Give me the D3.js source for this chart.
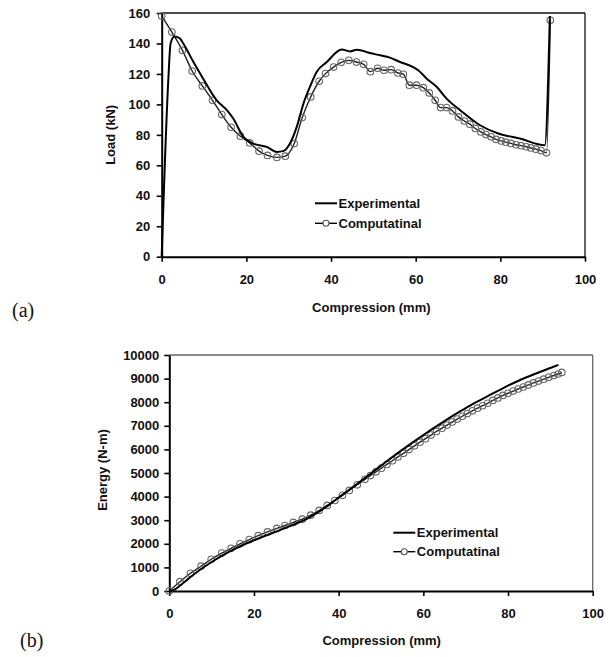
<!DOCTYPE html>
<html>
<head>
<meta charset="utf-8">
<script src="https://cdn.jsdelivr.net/npm/d3@7"></script>
<style>
html,body{margin:0;padding:0;background:#fff;}
svg{display:block;}
text{font-family:"Liberation Sans",Arial,sans-serif;}
text.serif{font-family:"Liberation Serif","Times New Roman",serif;}
</style>
</head>
<body>
<svg id="chart" width="611" height="657"></svg>
<script>
// ---------- DATA ----------
const seriesNames = ["Experimental", "Computatinal"];
const xTicks = [0, 20, 40, 60, 80, 100];
const loadTicks = [0, 20, 40, 60, 80, 100, 120, 140, 160];
const energyTicks = [0, 1000, 2000, 3000, 4000, 5000, 6000, 7000, 8000, 9000, 10000];

// (a) Load vs compression
const loadExpX = [0,1.56,2.1,3.0,4.2,5.1,7.5,9.8,13.0,15.4,16.9,19.3,21.6,24.8,27.2,28.7,30.3,31.9,33.5,35.0,36.6,39.0,42.5,44.5,46.1,49.2,51.6,53.9,56.3,59.4,60.6,62.6,65.0,67.3,70.5,75.2,79.5,84.6,90.5,91.7];
const loadExpY = [0,116,140,144.5,143.5,140,127.8,116.9,102.7,96.2,90.7,78.7,74.3,72.1,68.8,69.3,74.3,85.2,100.6,111.4,121.3,127.8,136.1,134.8,135.9,133.7,132.2,130.7,127.8,124.5,122.4,116.9,111.4,103.8,96.2,86.3,80.9,77.6,73.2,158];
const loadCompX = [0,2.4,4.9,7.2,9.6,12.0,14.2,16.4,18.6,20.8,23.0,25.0,27.2,29.2,31.3,33.2,35.2,37.2,38.7,40.6,42.4,44.2,46.0,47.7,49.3,51.0,52.5,54.2,55.8,57.1,58.5,60.2,61.8,63.2,64.6,65.9,67.3,68.7,70.1,71.5,72.8,74.1,75.4,76.6,77.8,79.0,80.2,81.3,82.5,83.7,84.9,86.1,87.2,88.4,89.6,90.9,91.8];
const loadCompY = [158,147.5,135.5,121.9,112.1,102.7,93.3,85.0,79.1,74.7,69.3,66.5,65.2,66.0,74.3,91.4,104.9,115.2,120.2,124.5,127.6,128.9,127.8,126.3,121.5,123.7,122.4,122.8,120.6,119.8,112.6,112.6,111.0,107.5,102.7,97.9,97.9,95.7,91.8,89.1,87.0,84.2,81.9,80.2,78.7,77.0,76.0,75.2,74.4,73.5,72.9,72.2,71.4,70.6,69.7,68.2,155.2];

// (b) Energy vs compression
const energyExpX = [0,1,2,3,4,5,7.5,10,12.5,15,17.5,20,22.5,25,27.5,30,32.5,35,37.5,40,42.5,45,47.5,50,52.5,55,57.5,60,62.5,65,67.5,70,72.5,75,77.5,80,82.5,85,87.5,90,91.9];
const energyExpY = [0,40,150,300,445,590,930,1230,1500,1740,1960,2150,2330,2500,2680,2860,3060,3320,3620,3960,4290,4630,4970,5310,5650,5980,6300,6610,6910,7200,7480,7750,8000,8240,8470,8700,8910,9100,9280,9450,9580];
const energyCompX = [0,2.5,5,7.5,9.9,12.4,14.6,16.7,18.9,21,23.2,25.4,27.3,29.3,31.4,33.4,35.4,37.3,39.1,40.9,42.5,44.4,46.2,47.5,48.8,50.1,51.4,52.7,54.0,55.3,56.6,57.9,59.2,60.5,61.8,63.1,64.4,65.6,66.8,68.0,69.2,70.4,71.6,72.8,74.0,75.2,76.4,77.6,78.8,80.0,81.2,82.4,83.6,84.8,86.0,87.2,88.4,89.6,90.8,91.8,92.7];
const energyCompY = [0,395,750,1050,1345,1605,1810,2000,2180,2345,2505,2650,2775,2905,3045,3215,3415,3625,3835,4055,4260,4500,4730,4890,5050,5205,5365,5520,5680,5835,5993,6150,6305,6455,6605,6760,6900,7030,7160,7285,7405,7520,7635,7745,7850,7955,8075,8180,8285,8380,8470,8560,8645,8730,8815,8895,8975,9055,9130,9195,9260];

// ---------- DRAW ----------
const svg = d3.select("#chart");
const FONT = 13;

function panel(cfg) {
  const x = d3.scaleLinear().domain([0, 100]).range([cfg.left, cfg.right]);
  const y = d3.scaleLinear().domain([0, cfg.yMax]).range([cfg.bottom, cfg.top]);
  const g = svg.append("g");

  // frame top/right
  g.append("line").attr("x1", cfg.left).attr("x2", cfg.right).attr("y1", cfg.top).attr("y2", cfg.top)
    .attr("stroke", cfg.frameColor).attr("stroke-width", 1.3);
  g.append("line").attr("x1", cfg.right).attr("x2", cfg.right).attr("y1", cfg.top).attr("y2", cfg.bottom)
    .attr("stroke", cfg.frameColor).attr("stroke-width", 1.3);

  // axes
  const ax = g.append("g").attr("transform", `translate(0,${cfg.bottom})`)
    .call(d3.axisBottom(x).tickValues(xTicks).tickSize(5).tickSizeOuter(0).tickPadding(cfg.xPad).tickFormat(d3.format("d")));
  const ay = g.append("g").attr("transform", `translate(${cfg.left},0)`)
    .call(d3.axisLeft(y).tickValues(cfg.yTicks).tickSize(5).tickSizeOuter(0).tickPadding(cfg.yPad).tickFormat(d3.format("d")));
  [ax, ay].forEach(a => {
    a.select(".domain").attr("stroke", "#000").attr("stroke-width", 2);
    a.selectAll(".tick line").attr("stroke", "#000").attr("stroke-width", 1.6);
    a.selectAll(".tick text").attr("font-family", '"Liberation Sans",Arial,sans-serif')
      .attr("font-size", FONT).attr("font-weight", "bold").attr("fill", "#111");
  });

  // lines
  const lineGen = d3.line().x(d => x(d[0])).y(d => y(d[1])).curve(d3.curveMonotoneX);
  const expData = cfg.expX.map((v, i) => [v, cfg.expY[i]]);
  const compData = cfg.compX.map((v, i) => [v, cfg.compY[i]]);

  g.append("path").datum(compData).attr("d", lineGen).attr("fill", "none")
    .attr("stroke", "#222").attr("stroke-width", 1.4);
  g.selectAll("circle.pt").data(compData).enter().append("circle").attr("class", "pt")
    .attr("cx", d => x(d[0])).attr("cy", d => y(d[1])).attr("r", 3.3)
    .attr("fill", "none").attr("stroke", "#666").attr("stroke-width", 1.1);
  g.append("path").datum(expData).attr("d", lineGen).attr("fill", "none")
    .attr("stroke", "#000").attr("stroke-width", 2);

  // axis titles
  g.append("text").attr("x", (cfg.left + cfg.right) / 2 + cfg.xTitleDx).attr("y", cfg.xTitleY)
    .attr("text-anchor", "middle").attr("font-size", FONT).attr("font-weight", "bold").attr("fill", "#111")
    .text("Compression (mm)");
  g.append("text").attr("transform", `translate(${cfg.yTitleX},${(cfg.top + cfg.bottom) / 2 + cfg.yTitleDy}) rotate(-90)`)
    .attr("text-anchor", "middle").attr("font-size", FONT).attr("font-weight", "bold").attr("fill", "#111")
    .text(cfg.yTitle);

  // legend
  const lg = g.append("g");
  seriesNames.forEach((name, i) => {
    const ly = cfg.legY + i * cfg.legGap;
    lg.append("line").attr("x1", cfg.legX).attr("x2", cfg.legX + 22).attr("y1", ly).attr("y2", ly)
      .attr("stroke", "#000").attr("stroke-width", i === 0 ? 2 : 1.4);
    if (i === 1) {
      lg.append("circle").attr("cx", cfg.legX + 11).attr("cy", ly).attr("r", 3)
        .attr("fill", "#fff").attr("stroke", "#555").attr("stroke-width", 1.1);
    }
    lg.append("text").attr("x", cfg.legX + 23.5).attr("y", ly + 4.7)
      .attr("font-size", FONT).attr("font-weight", "bold").attr("fill", "#111").text(name);
  });

  // panel label
  svg.append("text").attr("class", "serif").attr("x", cfg.labX).attr("y", cfg.labY)
    .attr("font-size", 20).attr("fill", "#111").text(cfg.label);
}

panel({
  left: 161.7, right: 585, top: 13, bottom: 256.7, yMax: 160, yTicks: loadTicks,
  xPad: 13.5, yPad: 6.5, frameColor: "#111",
  expX: loadExpX, expY: loadExpY, compX: loadCompX, compY: loadCompY,
  xTitleY: 312, xTitleDx: -2, yTitleX: 115, yTitleDy: 0, yTitle: "Load (kN)",
  legX: 315, legY: 203.3, legGap: 20,
  label: "(a)", labX: 12, labY: 317
});

panel({
  left: 169.3, right: 592.7, top: 355, bottom: 591, yMax: 10000, yTicks: energyTicks,
  xPad: 12.7, yPad: 5, frameColor: "#666",
  expX: energyExpX, expY: energyExpY, compX: energyCompX, compY: energyCompY,
  xTitleY: 644.7, xTitleDx: 0.7, yTitleX: 106.5, yTitleDy: -3, yTitle: "Energy (N-m)",
  legX: 393.3, legY: 532.7, legGap: 19,
  label: "(b)", labX: 20, labY: 647
});
</script>
</body>
</html>
